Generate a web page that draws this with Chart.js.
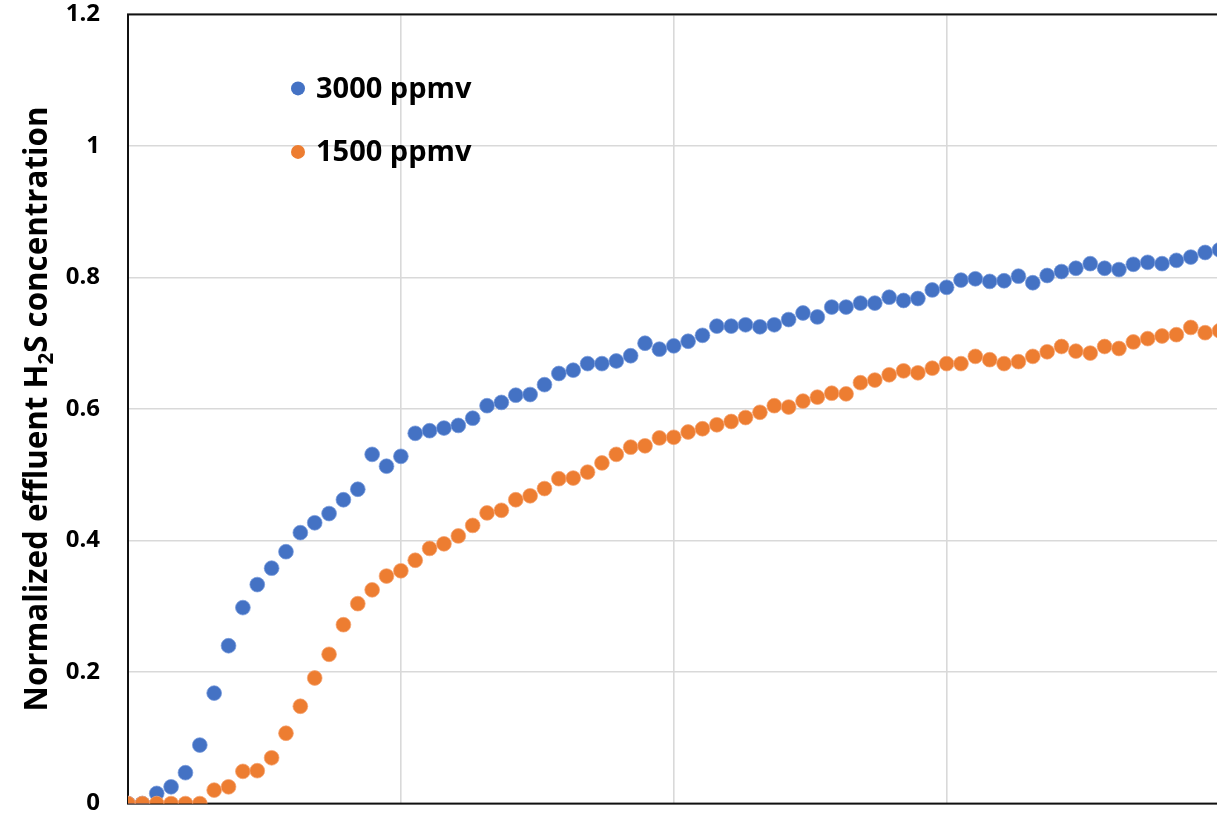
<!DOCTYPE html>
<html>
<head>
<meta charset="utf-8">
<title>Normalized effluent H2S concentration</title>
<script src="https://cdn.jsdelivr.net/npm/chart.js@4.4.1/dist/chart.umd.min.js"></script>
<style>
  html, body { margin: 0; padding: 0; background: #ffffff; overflow: hidden; }
  #wrap { position: absolute; left: 0; top: 0; width: 1230px; height: 818px; }
</style>
</head>
<body>
<div id="wrap"><canvas id="chart" width="1230" height="818"></canvas></div>
<script>
// Sample number of each measurement
const samples = [
  0, 1, 2, 3, 4, 5, 6, 7, 8, 9,
  10, 11, 12, 13, 14, 15, 16, 17, 18, 19,
  20, 21, 22, 23, 24, 25, 26, 27, 28, 29,
  30, 31, 32, 33, 34, 35, 36, 37, 38, 39,
  40, 41, 42, 43, 44, 45, 46, 47, 48, 49,
  50, 51, 52, 53, 54, 55, 56, 57, 58, 59,
  60, 61, 62, 63, 64, 65, 66, 67, 68, 69,
  70, 71, 72, 73, 74, 75, 76
];

// Normalized effluent H2S, 3000 ppmv inlet
const c3000 = [
  0, 0, 0.0155, 0.0255, 0.047, 0.089, 0.168, 0.240, 0.298, 0.333,
  0.358, 0.383, 0.412, 0.427, 0.441, 0.462, 0.478, 0.531, 0.513, 0.528,
  0.563, 0.567, 0.571, 0.575, 0.586, 0.605, 0.610, 0.621, 0.622, 0.637,
  0.654, 0.659, 0.669, 0.669, 0.673, 0.681, 0.700, 0.691, 0.696, 0.703,
  0.712, 0.726, 0.726, 0.728, 0.725, 0.728, 0.736, 0.746, 0.740, 0.755,
  0.755, 0.761, 0.761, 0.770, 0.765, 0.768, 0.781, 0.785, 0.796, 0.798,
  0.794, 0.795, 0.802, 0.792, 0.803, 0.809, 0.814, 0.821, 0.814, 0.812,
  0.820, 0.823, 0.821, 0.826, 0.831, 0.838, 0.842
];

// Normalized effluent H2S, 1500 ppmv inlet
const c1500 = [
  0, 0, 0, 0, 0, 0, 0.0205, 0.0255, 0.049, 0.050,
  0.0696, 0.107, 0.148, 0.191, 0.227, 0.272, 0.304, 0.325, 0.346, 0.354,
  0.370, 0.388, 0.395, 0.407, 0.423, 0.442, 0.446, 0.462, 0.468, 0.479,
  0.494, 0.495, 0.504, 0.518, 0.531, 0.542, 0.544, 0.556, 0.557, 0.565,
  0.570, 0.576, 0.581, 0.587, 0.595, 0.605, 0.603, 0.612, 0.618, 0.624,
  0.623, 0.640, 0.644, 0.652, 0.658, 0.655, 0.662, 0.669, 0.669, 0.680,
  0.675, 0.669, 0.672, 0.680, 0.687, 0.695, 0.688, 0.685, 0.695, 0.692,
  0.702, 0.707, 0.711, 0.713, 0.724, 0.716, 0.719
];

const seriesLabels = ['3000 ppmv', '1500 ppmv'];
const seriesColors = ['#4472C4', '#ED7D31'];

const yTicks = [0, 0.2, 0.4, 0.6, 0.8, 1, 1.2];
const yTickLabels = ['0', '0.2', '0.4', '0.6', '0.8', '1', '1.2'];
const xGridTicks = [0, 19, 38, 57, 76];

const yTitleParts = ['Normalized effluent H', '2', 'S concentration'];

const FONT = '"Open Sans", "Liberation Sans", sans-serif';

function points(ys) {
  return samples.map((x, i) => ({ x: x, y: ys[i] }));
}

// Frame around the plot area, drawn beneath the markers
const frame = {
  id: 'frame',
  beforeDatasetsDraw(chart) {
    const { ctx, chartArea: a } = chart;
    ctx.save();
    ctx.strokeStyle = '#111111';
    ctx.lineWidth = 2;
    ctx.strokeRect(a.left, a.top, a.right - a.left, a.bottom - a.top);
    ctx.restore();
  }
};

// Vertical axis title with a subscript digit
const yTitle = {
  id: 'yTitle',
  afterDraw(chart) {
    const { ctx, chartArea: a } = chart;
    const big = 'bold 31.3px ' + FONT;
    const small = 'bold 20.5px ' + FONT;
    ctx.save();
    ctx.fillStyle = '#000000';
    ctx.textBaseline = 'alphabetic';
    ctx.textAlign = 'left';
    ctx.font = big;
    const w0 = ctx.measureText(yTitleParts[0]).width;
    const w2 = ctx.measureText(yTitleParts[2]).width;
    ctx.font = small;
    const w1 = ctx.measureText(yTitleParts[1]).width;
    const total = w0 + w1 + w2;
    const cy = (a.top + a.bottom) / 2;
    ctx.translate(47, cy);
    ctx.rotate(-Math.PI / 2);
    let x = -total / 2;
    ctx.font = big;
    ctx.fillText(yTitleParts[0], x, 0);
    x += w0;
    ctx.font = small;
    ctx.fillText(yTitleParts[1], x, 6);
    x += w1;
    ctx.font = big;
    ctx.fillText(yTitleParts[2], x, 0);
    ctx.restore();
  }
};

// Legend placed inside the plot area
const innerLegend = {
  id: 'innerLegend',
  afterDraw(chart) {
    const { ctx, chartArea: a } = chart;
    const sets = chart.data.datasets.slice().sort((p, q) => p.legendRank - q.legendRank);
    ctx.save();
    ctx.font = 'bold 29px ' + FONT;
    ctx.textBaseline = 'middle';
    ctx.textAlign = 'left';
    sets.forEach((ds, i) => {
      const cx = a.left + 170;
      const cy = a.top + 74 + i * 63.5;
      ctx.beginPath();
      ctx.arc(cx, cy, 7, 0, Math.PI * 2);
      ctx.fillStyle = ds.backgroundColor;
      ctx.fill();
      ctx.fillStyle = '#000000';
      ctx.fillText(ds.label, cx + 18, cy + 1);
    });
    ctx.restore();
  }
};

new Chart(document.getElementById('chart'), {
  type: 'scatter',
  data: {
    datasets: [
      {
        label: seriesLabels[0],
        legendRank: 0,
        data: points(c3000),
        backgroundColor: seriesColors[0],
        borderColor: 'rgba(120,155,220,0.9)',
        borderWidth: 0.8,
        pointRadius: 7.4,
        order: 2
      },
      {
        label: seriesLabels[1],
        legendRank: 1,
        data: points(c1500),
        backgroundColor: seriesColors[1],
        borderColor: 'rgba(245,165,115,0.9)',
        borderWidth: 0.8,
        pointRadius: 7.4,
        order: 1
      }
    ]
  },
  options: {
    responsive: false,
    animation: false,
    devicePixelRatio: 1,
    layout: { padding: { left: 0, right: 10.5, top: 14, bottom: 13 } },
    plugins: {
      legend: { display: false },
      tooltip: { enabled: false }
    },
    scales: {
      x: {
        type: 'linear',
        min: 0,
        max: 76,
        afterBuildTicks(scale) { scale.ticks = xGridTicks.map(v => ({ value: v })); },
        ticks: { display: false },
        grid: { color: '#d9d9d9', lineWidth: 1.6, drawTicks: false },
        border: { display: false }
      },
      y: {
        type: 'linear',
        min: 0,
        max: 1.2,
        afterBuildTicks(scale) { scale.ticks = yTicks.map(v => ({ value: v })); },
        afterFit(scale) { scale.width = 128; },
        ticks: {
          padding: 0,
          color: '#000000',
          font: { family: FONT, size: 24, weight: 'bold' },
          callback: (v, i) => yTickLabels[i]
        },
        grid: {
          color: '#d9d9d9',
          lineWidth: 1.6,
          drawTicks: true,
          tickLength: 28,
          tickColor: 'rgba(0,0,0,0)'
        },
        border: { display: false }
      }
    }
  },
  plugins: [frame, yTitle, innerLegend]
});
</script>
</body>
</html>
